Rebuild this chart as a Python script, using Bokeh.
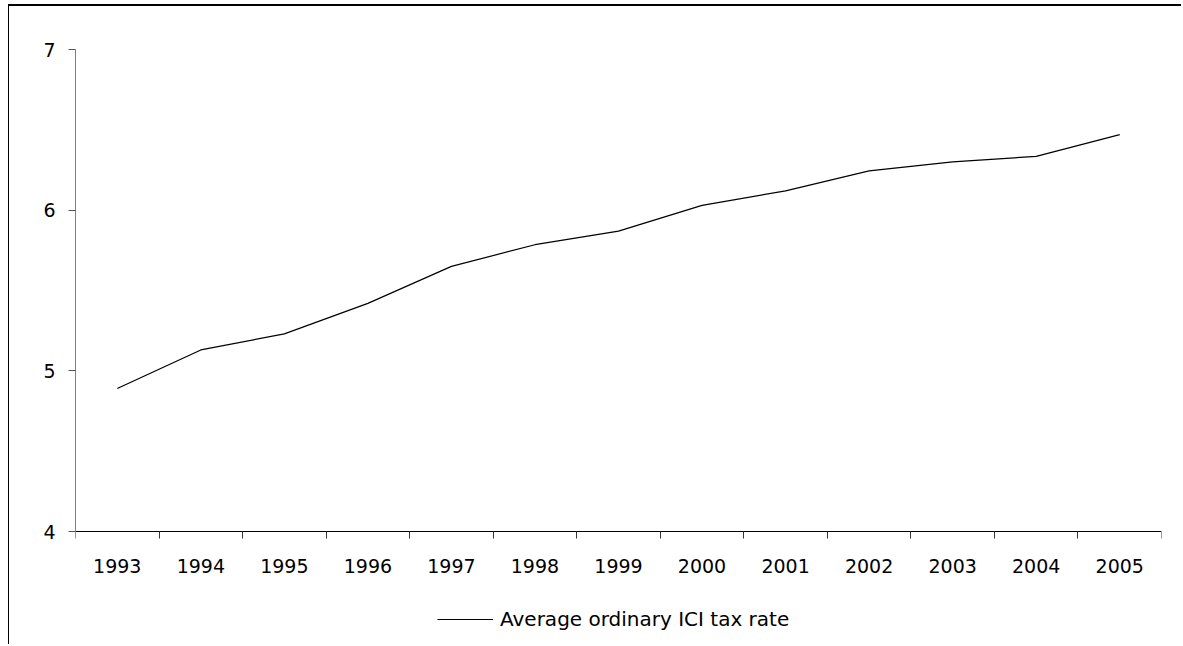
from bokeh.plotting import figure
from bokeh.models import FixedTicker, Range1d, Legend, LegendItem, ColumnDataSource
from bokeh.embed import file_html
from bokeh.resources import INLINE

years = ["1993", "1994", "1995", "1996", "1997", "1998", "1999",
         "2000", "2001", "2002", "2003", "2004", "2005"]
rates = [4.89, 5.13, 5.23, 5.42, 5.65, 5.785, 5.87, 6.03, 6.12, 6.245, 6.30, 6.335, 6.47]
y_ticks = [4, 5, 6, 7]
series_name = "Average ordinary ICI tax rate"

FONT = "DejaVu Sans"
FS = "19px"

# layout: the value axis spans 482 px; the frame continues below it to hold
# the year labels and the legend
AXIS_PX = 482
FRAME_H = 595
y_lo, y_hi = min(y_ticks), max(y_ticks)
y_start = y_hi - FRAME_H * (y_hi - y_lo) / AXIS_PX

xs = [i + 0.5 for i in range(len(years))]
src = ColumnDataSource(dict(x=xs, y=rates))

p = figure(frame_width=1086, frame_height=FRAME_H, output_backend="svg", toolbar_location=None,
           x_range=Range1d(0, len(years)), y_range=Range1d(y_start, y_hi),
           min_border_left=66, min_border_right=20, min_border_top=43,
           min_border_bottom=0)
p.styles = {"border-top": "2px solid black", "border-left": "1px solid black",
            "margin-top": "4px", "margin-left": "8px"}
p.outline_line_color = None
p.xgrid.visible = False
p.ygrid.visible = False
p.background_fill_color = "white"

r = p.line("x", "y", source=src, line_color="black", line_width=1.2)

# x axis drawn at y = 4: labels centred in categories, ticks at boundaries
p.xaxis.fixed_location = y_lo
p.xaxis.ticker = FixedTicker(ticks=xs, minor_ticks=list(range(len(years) + 1)))
p.xaxis.major_label_overrides = {x: y for x, y in zip(xs, years)}
p.xaxis.major_tick_line_color = None
p.xaxis.major_tick_out = 0
p.xaxis.major_tick_in = 0
p.xaxis.minor_tick_out = 7
p.xaxis.minor_tick_in = 0
p.xaxis.minor_tick_line_color = "#333333"
p.xaxis.axis_line_color = "black"
p.xaxis.major_label_standoff = 20
p.xaxis.major_label_text_font = FONT
p.xaxis.major_label_text_font_size = FS
p.xaxis.major_label_text_color = "black"

p.yaxis.bounds = (y_lo, y_hi)
p.yaxis.ticker = FixedTicker(ticks=y_ticks, minor_ticks=[])
p.yaxis.axis_line_color = "#808080"
p.yaxis.major_tick_line_color = "#555555"
p.yaxis.major_tick_out = 7
p.yaxis.major_tick_in = 0
p.yaxis.minor_tick_line_color = None
p.yaxis.major_label_standoff = 13
p.yaxis.major_label_text_font = FONT
p.yaxis.major_label_text_font_size = FS
p.yaxis.major_label_text_color = "black"

legend = Legend(items=[LegendItem(label=series_name, renderers=[r])],
                location=(362, 13), orientation="horizontal",
                glyph_width=56, glyph_height=20, label_height=20, label_standoff=7,
                padding=0, margin=0, border_line_color=None,
                background_fill_alpha=0,
                label_text_font=FONT, label_text_font_size="20px",
                label_text_color="black")
p.add_layout(legend, "center")

open("out.html", "w").write(file_html(p, INLINE))
